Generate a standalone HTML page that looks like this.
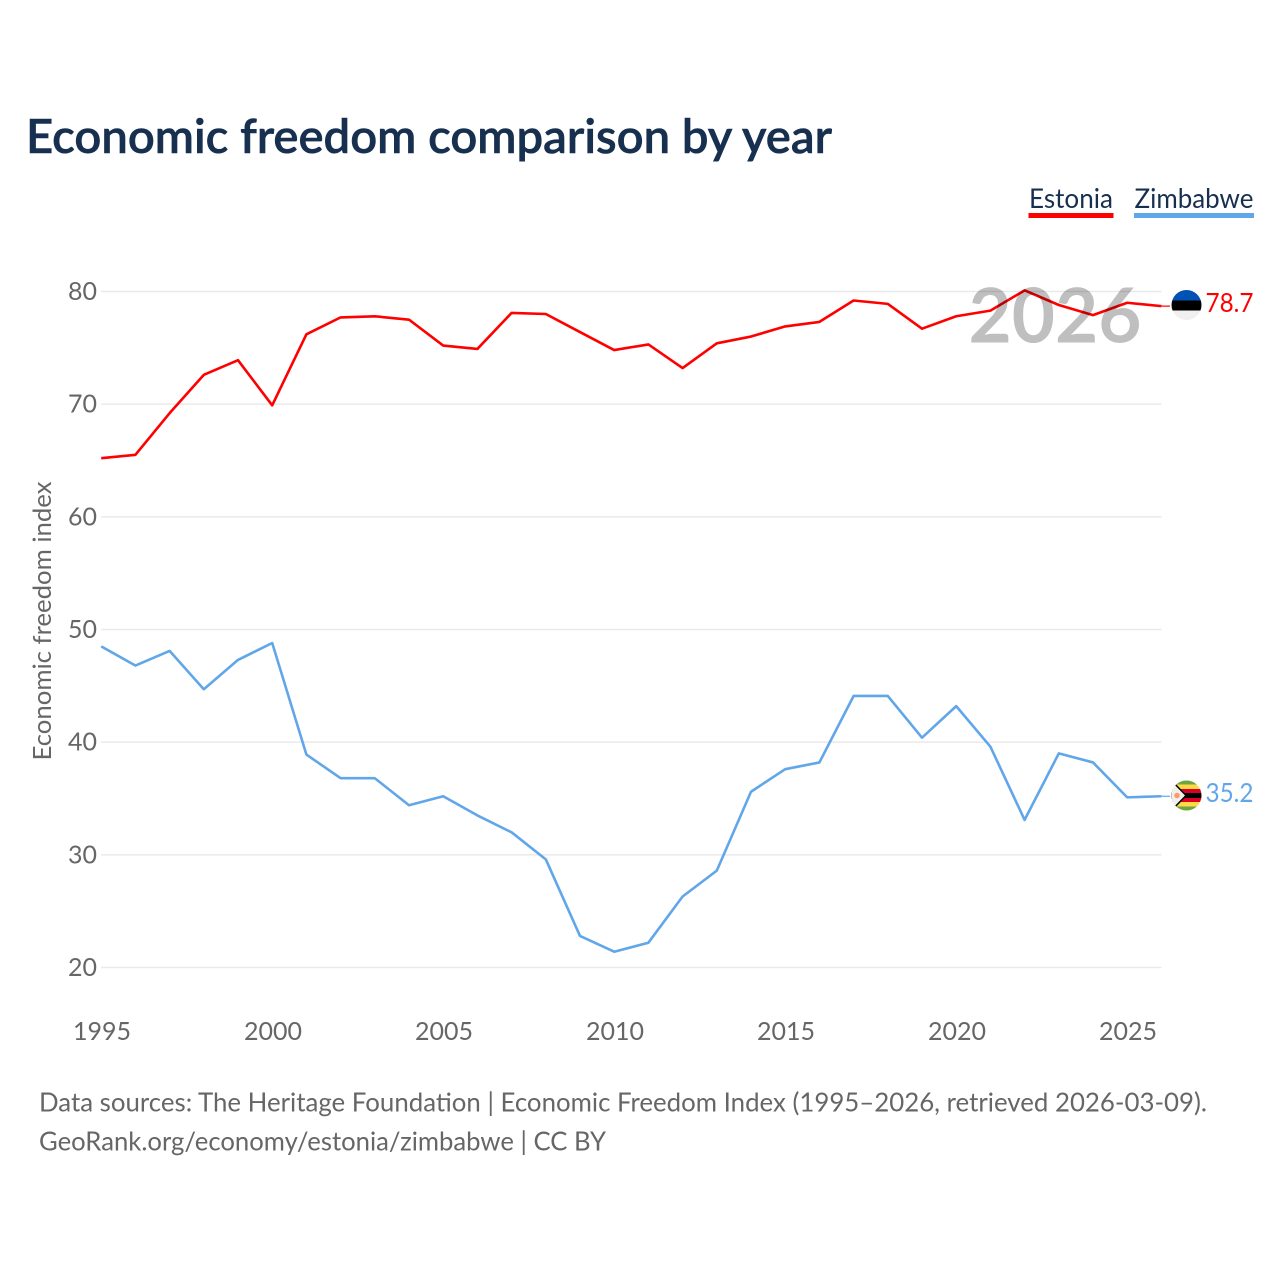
<!DOCTYPE html>
<html>
<head>
<meta charset="utf-8">
<title>Economic freedom comparison by year</title>
<style>
html,body{margin:0;padding:0;background:#fff;width:1280px;height:1280px;overflow:hidden}
svg{display:block}
text{font-family:"Lato","Carlito","Liberation Sans",sans-serif}
</style>
</head>
<body>
<svg id="chart" xmlns="http://www.w3.org/2000/svg" width="1280" height="1280" viewBox="0 0 1280 1280">
  <rect width="1280" height="1280" fill="#fff"/>
  <text x="26" y="153" font-size="47" font-weight="600" fill="#18304f" stroke="#18304f" stroke-width="0.6" textLength="806" lengthAdjust="spacingAndGlyphs">Economic freedom comparison by year</text>
  <g>
    <g>
      <text x="1029" y="208" font-size="27" fill="#18304f" textLength="84" lengthAdjust="spacingAndGlyphs">Estonia</text>
      <rect x="1028.5" y="213" width="85" height="5" fill="#ff0000"/>
    </g>
    <g>
      <text x="1134.5" y="208" font-size="27" fill="#18304f" textLength="119" lengthAdjust="spacingAndGlyphs">Zimbabwe</text>
      <rect x="1134" y="213" width="120" height="5" fill="#62a6ea"/>
    </g>
  </g>
  <g id="grid"></g>
  <g id="yticks"></g>
  <g id="xticks"></g>
  <text transform="translate(51,621) rotate(-90)" text-anchor="middle" font-size="25" fill="#666" textLength="279" lengthAdjust="spacingAndGlyphs">Economic freedom index</text>
  <g id="series"></g>
  <text x="1055" y="342.5" text-anchor="middle" font-size="76" font-weight="700" fill="#000" fill-opacity="0.25" textLength="173" lengthAdjust="spacingAndGlyphs">2026</text>
  <defs>
    <clipPath id="flag-clip-ee"><circle cx="1186.5" cy="305" r="15"/></clipPath>
    <clipPath id="flag-clip-zw"><circle cx="1186.5" cy="795.5" r="15"/></clipPath>
  </defs>
  <g id="flag-ee" clip-path="url(#flag-clip-ee)">
    <rect x="1171" y="290" width="31" height="10.5" fill="#0052b4"/>
    <rect x="1171" y="300.5" width="31" height="10" fill="#000"/>
    <rect x="1171" y="310.5" width="31" height="10" fill="#f0f0f0"/>
  </g>
  <g id="flag-zw" clip-path="url(#flag-clip-zw)">
    <rect x="1171" y="780" width="31" height="31" fill="#ffda44"/>
    <rect x="1171" y="780" width="31" height="4.5" fill="#6da544"/>
    <rect x="1171" y="806.5" width="31" height="4.5" fill="#6da544"/>
    <rect x="1171" y="789" width="31" height="4.5" fill="#d80027"/>
    <rect x="1171" y="797.5" width="31" height="4.5" fill="#d80027"/>
    <rect x="1171" y="793" width="31" height="5" fill="#000"/>
    <polygon points="1171,780 1186,795.5 1171,811" fill="#f0f0f0" stroke="#000" stroke-width="1.5"/>
    <circle cx="1177" cy="795.5" r="2.8" fill="#ff9a6a"/>
  </g>
  <text id="end-ee" x="1205.5" y="312" font-size="26" fill="#ff0000" textLength="48" lengthAdjust="spacingAndGlyphs"></text>
  <text id="end-zw" x="1205.5" y="802" font-size="26" fill="#62a6ea" textLength="48" lengthAdjust="spacingAndGlyphs"></text>
  <text x="39" y="1111.5" font-size="26" fill="#666" textLength="1168" lengthAdjust="spacingAndGlyphs">Data sources: The Heritage Foundation | Economic Freedom Index (1995–2026, retrieved 2026-03-09).</text>
  <text x="39" y="1150.5" font-size="26" fill="#666" textLength="567" lengthAdjust="spacingAndGlyphs">GeoRank.org/economy/estonia/zimbabwe | CC BY</text>
</svg>
<script>
const years = [1995,1996,1997,1998,1999,2000,2001,2002,2003,2004,2005,2006,2007,2008,2009,2010,2011,2012,2013,2014,2015,2016,2017,2018,2019,2020,2021,2022,2023,2024,2025,2026];
const estonia = [65.2,65.5,69.2,72.6,73.9,69.9,76.2,77.7,77.8,77.5,75.2,74.9,78.1,78.0,76.4,74.8,75.3,73.2,75.4,76.0,76.9,77.3,79.2,78.9,76.7,77.8,78.3,80.1,78.8,77.9,79.0,78.7];
const zimbabwe = [48.5,46.8,48.1,44.7,47.3,48.8,38.9,36.8,36.8,34.4,35.2,33.5,32.0,29.6,22.8,21.4,22.2,26.3,28.6,35.6,37.6,38.2,44.1,44.1,40.4,43.2,39.6,33.1,39.0,38.2,35.1,35.2];
const yTickValues = [20,30,40,50,60,70,80];
const xTickValues = [1995,2000,2005,2010,2015,2020,2025];

const NS = 'http://www.w3.org/2000/svg';
const xScale = function (year) { return 101.2 + (year - 1995) * 34.2; };
const yScale = function (v) { return 967.5 - (v - 20) * 11.267; };

const grid = document.getElementById('grid');
const yticks = document.getElementById('yticks');
const xticks = document.getElementById('xticks');
const seriesGroup = document.getElementById('series');

yTickValues.forEach(function (v) {
  const line = document.createElementNS(NS, 'line');
  
  
  line.setAttribute('x1', xScale(1995));
  line.setAttribute('x2', xScale(2026));
  line.setAttribute('y1', yScale(v));
  line.setAttribute('y2', yScale(v));
  line.setAttribute('stroke', '#e9e9e9');
  line.setAttribute('stroke-width', 1.5);
  grid.appendChild(line);
  const label = document.createElementNS(NS, 'text');
  
  
  label.setAttribute('x', 97);
  label.setAttribute('y', yScale(v) + 8.5);
  label.setAttribute('text-anchor', 'end');
  label.setAttribute('font-size', 25);
  label.setAttribute('fill', '#666');
  label.textContent = v;
  yticks.appendChild(label);
});

xTickValues.forEach(function (year) {
  const label = document.createElementNS(NS, 'text');
  
  
  label.setAttribute('x', xScale(year) + 0.8);
  label.setAttribute('y', 1040);
  label.setAttribute('text-anchor', 'middle');
  label.setAttribute('font-size', 25);
  label.setAttribute('fill', '#666');
  label.textContent = year;
  xticks.appendChild(label);
});

function drawSeries(values, color, key) {
  const d = values.map(function (v, i) {
    return (i ? 'L' : 'M') + xScale(years[i]).toFixed(2) + ' ' + yScale(v).toFixed(2);
  }).join(' ');
  const path = document.createElementNS(NS, 'path');
  
  
  path.setAttribute('d', d);
  path.setAttribute('fill', 'none');
  path.setAttribute('stroke', color);
  path.setAttribute('stroke-width', 2.6);
  path.setAttribute('stroke-linejoin', 'round');
  seriesGroup.appendChild(path);
  const last = values[values.length - 1];
  const conn = document.createElementNS(NS, 'line');
  
  
  conn.setAttribute('x1', xScale(years[years.length - 1]));
  conn.setAttribute('x2', 1170);
  conn.setAttribute('y1', yScale(last));
  conn.setAttribute('y2', yScale(last));
  conn.setAttribute('stroke', color);
  conn.setAttribute('stroke-width', 1.2);
  seriesGroup.appendChild(conn);
}
drawSeries(estonia, '#ff0000', 'estonia');
drawSeries(zimbabwe, '#62a6ea', 'zimbabwe');

document.getElementById('end-ee').textContent = estonia[estonia.length - 1].toFixed(1);
document.getElementById('end-zw').textContent = zimbabwe[zimbabwe.length - 1].toFixed(1);
</script>
</body>
</html>
